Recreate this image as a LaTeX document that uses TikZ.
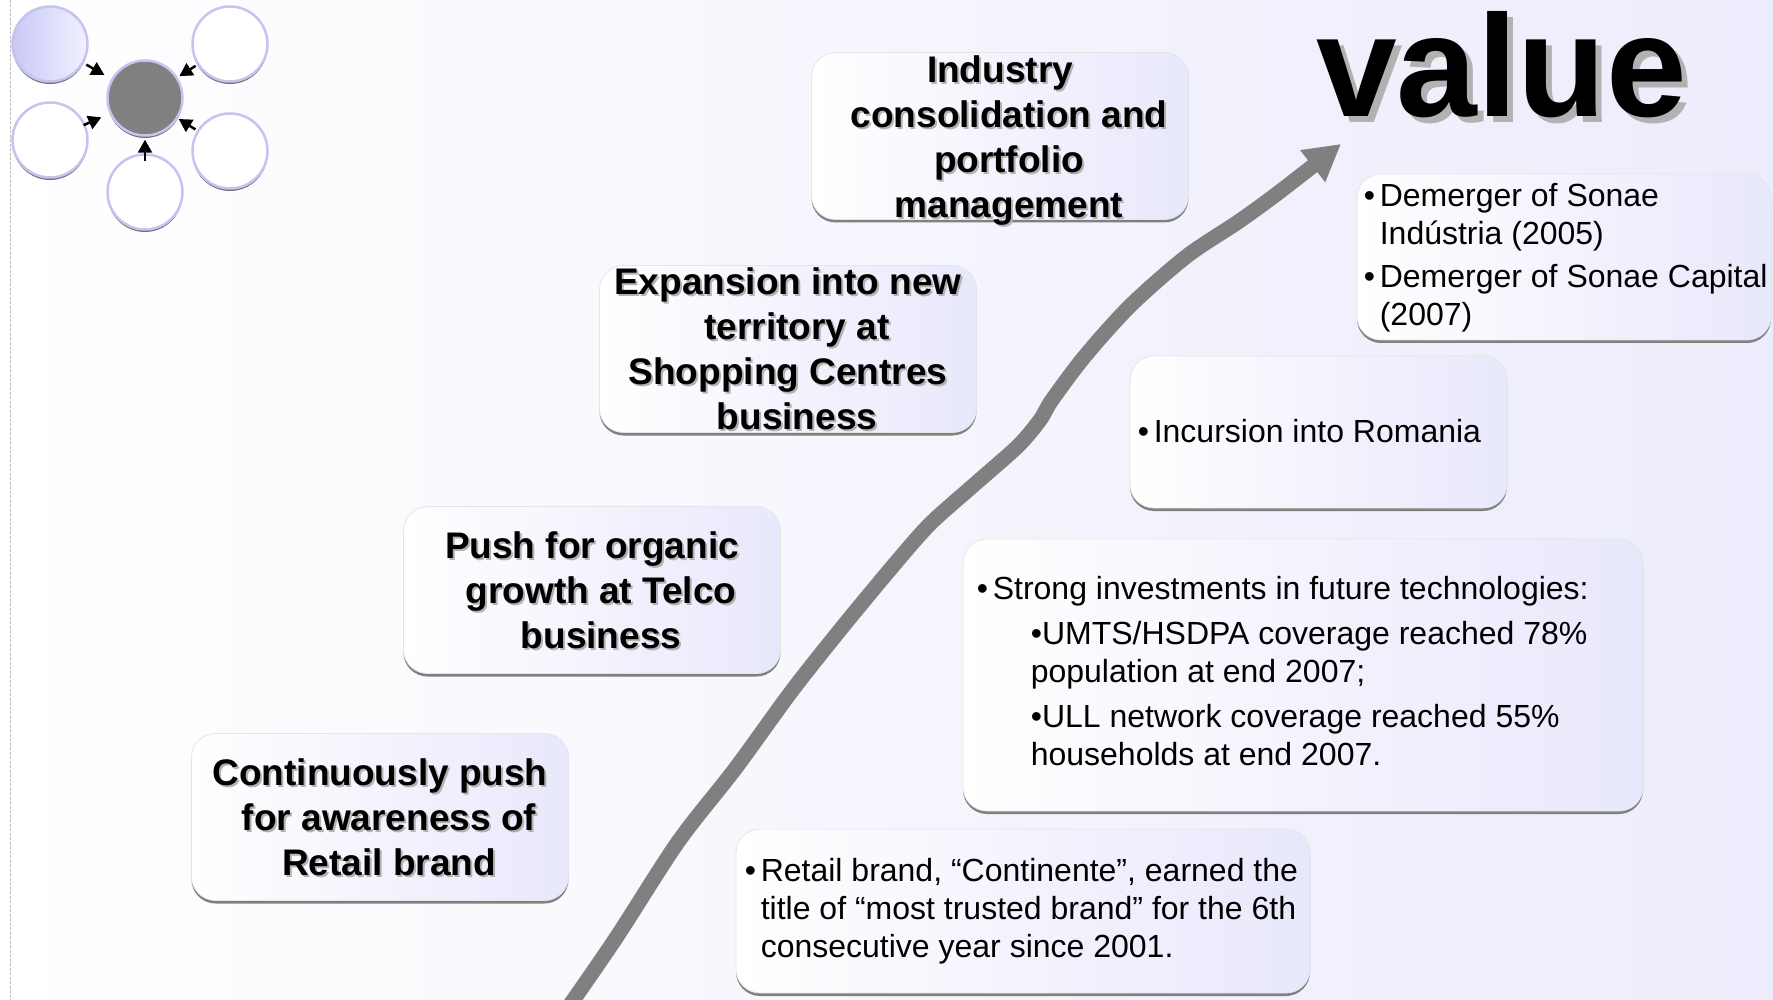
\documentclass[tikz,border=0pt]{standalone}
\usepackage{fontspec}
\setmainfont{Liberation Sans}
\usepackage{tikz}
\usetikzlibrary{arrows.meta,shadows}

\definecolor{lavbg}{RGB}{236,236,252}
\definecolor{lavbox}{RGB}{232,232,252}
\definecolor{ring}{RGB}{196,196,240}
\definecolor{ringdark}{RGB}{200,200,246}
\definecolor{ringlight}{RGB}{242,242,255}
\newcommand{\blt}{\makebox[16pt][l]{\textbullet}}
\newcommand{\nudge}{\hspace*{18pt}}

\begin{document}
\begin{tikzpicture}[x=1pt, y=-1pt,
  bubble/.style={circle, minimum size=75pt, inner sep=0pt, draw=ring, line width=2.5pt, fill=white,
    drop shadow={shadow xshift=0pt, shadow yshift=-2.5pt, opacity=1, fill=black!55}},
  feed/.style={-{Triangle[length=13pt,width=14pt]}, line width=2.5pt, shorten <=2pt, shorten >=2pt},
  stepbox/.style={rounded corners=24pt, left color=white, right color=lavbox, draw=black!10, line width=.8pt, inner sep=0pt,
    drop shadow={shadow xshift=0pt, shadow yshift=-3pt, opacity=1, fill=black!50}},
  headbox/.style={stepbox, minimum width=377pt, minimum height=167pt},
  headtxt/.style={align=center, inner sep=0pt, font=\bfseries\fontsize{37}{45}\selectfont},
  facttxt/.style={align=left, inner sep=0pt, anchor=base west, font=\fontsize{32}{38}\selectfont},
  growth/.style={draw=black!50, line width=15pt, -{Triangle[length=36pt,width=38pt]}}
  ]
  \fill[left color=white, right color=lavbg] (0,0) rectangle (1773,1000);
  \useasboundingbox (0,0) rectangle (1773,1000);
  \draw[black!25, dash pattern=on 3pt off 1.5pt, line width=1pt] (10,0) -- (10,1000);

  \node[bubble, left color=ringdark, right color=ringlight] (src) at (50,44) {};
  \node[bubble, fill=black!50] (hub) at (145,98) {};
  \node[bubble] (ne) at (230,44) {};
  \node[bubble] (w) at (50,140) {};
  \node[bubble] (e) at (230,151) {};
  \node[bubble] (s) at (145,192) {};
  \draw[feed, shorten <=3pt, shorten >=8pt] (src) -- (hub);
  \draw[feed] (ne) -- (hub);
  \draw[feed, shorten <=-2pt, shorten >=9pt] (w) -- (hub);
  \draw[feed, shorten >=1pt] (e) -- (hub);
  \draw[feed, shorten <=-8pt, shorten >=3pt] (s) -- (hub);

  \draw[growth] plot[smooth, tension=.5] coordinates {(565,1012) (616,938) (678,842) (735,769) (791,692) (840,630)
    (893,566) (930,524) (975,484) (1018,446) (1040,420) (1052,400) (1085,356) (1131,305) (1187,256) (1238,222)
    (1278,193) (1341,144)};

  \foreach \nm/\cx/\cy/\dy/\txt in {consol/1000/136/5/{Industry\\\nudge consolidation and\\\nudge portfolio\\\nudge management},
      expand/788/349/0/{Expansion into new\\\nudge territory at\\Shopping Centres\\\nudge business},
      organic/592/590/0/{Push for organic\\\nudge growth at Telco\\\nudge business},
      aware/380/817/0/{Continuously push\\\nudge for awareness of\\\nudge Retail brand}}
  {
    \node[headbox] (\nm) at (\cx,\cy) {};
    \node[headtxt, text=black!30] (\nm-shade) at ([shift={(2,2+\dy)}]\nm) {\txt};
    \node[headtxt] (\nm-label) at ([shift={(0,\dy)}]\nm) {\txt};
  }

  \node[stepbox, minimum width=414pt, minimum height=166pt] (demerge) at (1564,257) {};
  \node[facttxt] (demerge-label) at ([shift={(7,152)}]demerge.north west)
    {\blt Demerger of Sonae\\ \hspace*{16pt}Indústria (2005)\\[5pt] \blt Demerger of Sonae Capital\\ \hspace*{16pt}(2007)};
  \node[stepbox, minimum width=377pt, minimum height=152pt] (romania) at (1318.5,432) {};
  \node[facttxt] (romania-label) at ([shift={(8,87)}]romania.north west) {\blt Incursion into Romania};
  \node[stepbox, minimum width=680pt, minimum height=272pt] (invest) at (1303,675) {};
  \node[facttxt] (invest-label) at ([shift={(14,227)}]invest.north west)
    {\blt Strong investments in future technologies:\\[7pt]
     \hspace*{54pt}\textbullet UMTS/HSDPA coverage reached 78\%\\ \hspace*{54pt}population at end 2007;\\[7pt]
     \hspace*{54pt}\textbullet ULL network coverage reached 55\%\\ \hspace*{54pt}households at end 2007.};
  \node[stepbox, minimum width=574pt, minimum height=164pt] (trust) at (1023,911) {};
  \node[facttxt] (trust-label) at ([shift={(9,129)}]trust.north west)
    {\blt Retail brand, “Continente”, earned the\\ \hspace*{16pt}title of “most trusted brand” for the 6th\\ \hspace*{16pt}consecutive year since 2001.};

  \node[anchor=base west, inner sep=0pt, font=\bfseries\fontsize{145}{150}\selectfont, text=black!30] (value-shade) at (1322,123) {value};
  \node[anchor=base west, inner sep=0pt, font=\bfseries\fontsize{145}{150}\selectfont] (value) at (1316,117) {value};
\end{tikzpicture}
\end{document}
